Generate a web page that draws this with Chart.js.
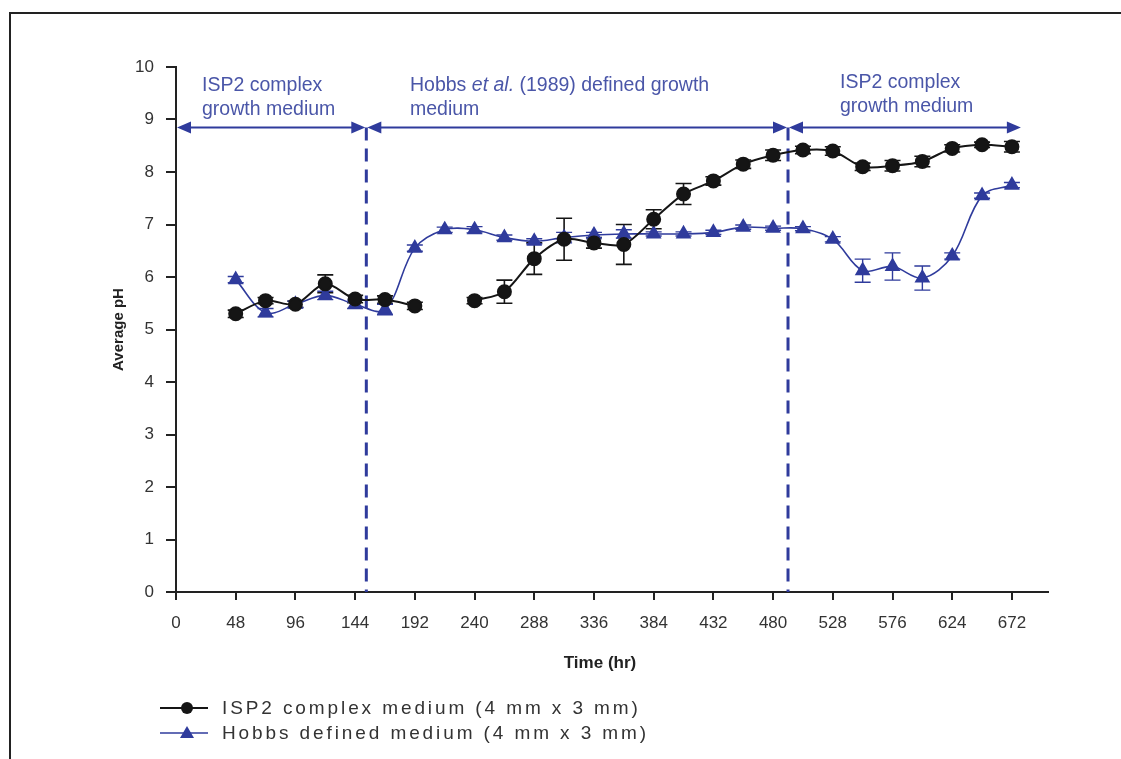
<!DOCTYPE html>
<html>
<head>
<meta charset="utf-8">
<script src="https://cdn.jsdelivr.net/npm/chart.js@4.4.1/dist/chart.umd.min.js"></script>
<style>
  html, body { margin: 0; padding: 0; background: #ffffff; }
  #wrap { width: 1121px; height: 759px; position: relative; }
</style>
</head>
<body>
<div id="wrap"><canvas id="c" width="1121" height="759"></canvas></div>
<script>
// ---- data ----
const times = [48,72,96,120,144,168,192,216,240,264,288,312,336,360,384,408,432,456,480,504,528,552,576,600,624,648,672];
const isp2pH = [5.30,5.55,5.48,5.87,5.58,5.57,5.45,null,5.55,5.72,6.35,6.72,6.65,6.62,7.10,7.58,7.83,8.15,8.32,8.42,8.40,8.10,8.12,8.20,8.45,8.52,8.48];
const isp2Err = [0.07,0.06,0.06,0.17,0.07,0.07,0.07,null,0.06,0.22,0.30,0.40,0.10,0.38,0.18,0.20,0.08,0.08,0.10,0.07,0.08,0.07,0.10,0.10,0.07,0.05,0.10];
const hobbsPH = [5.95,5.32,5.48,5.65,5.48,5.38,6.55,6.90,6.90,6.75,6.68,6.75,6.80,6.82,6.82,6.82,6.85,6.95,6.93,6.92,6.72,6.12,6.20,5.98,6.40,7.55,7.75];
const hobbsErr = [0.06,0.08,0.06,0.08,0.08,0.10,0.06,0.05,0.06,0.05,0.05,0.10,0.05,0.08,0.04,0.04,0.04,0.04,0.04,0.04,0.05,0.22,0.26,0.23,0.06,0.05,0.05];
const xTicks = [0,48,96,144,192,240,288,336,384,432,480,528,576,624,672];
const yTicks = [0,1,2,3,4,5,6,7,8,9,10];
const mediumChanges = [153, 492];   // hr, dashed lines
const phaseStart = 0, phaseEnd = 680, phaseArrowPH = 8.85;
const seriesNames = ['ISP2 complex medium (4 mm x 3 mm)', 'Hobbs defined medium (4 mm x 3 mm)'];

const BLACK = '#151515';
const BLUE = '#2f3b9c';
const TEXTBLUE = '#4a56a8';
const FONT = "'Liberation Sans', Arial, sans-serif";

const errorBarPlugin = {
  id: 'errorBars',
  beforeDatasetsDraw(chart) {
    const ctx = chart.ctx, xs = chart.scales.x, ys = chart.scales.y;
    const sets = [[isp2pH, isp2Err, BLACK, 1.6], [hobbsPH, hobbsErr, BLUE, 1.4]];
    ctx.save();
    sets.forEach(([vals, errs, col, lw]) => {
      ctx.strokeStyle = col; ctx.lineWidth = lw;
      times.forEach((t, i) => {
        if (vals[i] == null || errs[i] == null) return;
        const px = xs.getPixelForValue(t);
        const y1 = ys.getPixelForValue(vals[i] + errs[i]);
        const y2 = ys.getPixelForValue(vals[i] - errs[i]);
        ctx.beginPath();
        ctx.moveTo(px, y1); ctx.lineTo(px, y2);
        ctx.moveTo(px - 8, y1); ctx.lineTo(px + 8, y1);
        ctx.moveTo(px - 8, y2); ctx.lineTo(px + 8, y2);
        ctx.stroke();
      });
    });
    ctx.restore();
  }
};

function arrowHead(ctx, x, y, dir) {
  ctx.beginPath();
  ctx.moveTo(x, y);
  ctx.lineTo(x - dir * 14, y - 6);
  ctx.lineTo(x - dir * 14, y + 6);
  ctx.closePath();
  ctx.fill();
}

const annotationPlugin = {
  id: 'annot',
  beforeDatasetsDraw(chart) {
    const ctx = chart.ctx, xs = chart.scales.x, ys = chart.scales.y;
    const ay = ys.getPixelForValue(phaseArrowPH);
    const bounds = [phaseStart, ...mediumChanges, phaseEnd];
    ctx.save();
    ctx.strokeStyle = BLUE; ctx.lineWidth = 3; ctx.setLineDash([13, 8]);
    mediumChanges.forEach(t => {
      const px = xs.getPixelForValue(t);
      ctx.beginPath(); ctx.moveTo(px, ay); ctx.lineTo(px, ys.getPixelForValue(0)); ctx.stroke();
    });
    ctx.setLineDash([]);
    ctx.strokeStyle = BLUE; ctx.fillStyle = BLUE; ctx.lineWidth = 2;
    for (let i = 0; i < bounds.length - 1; i++) {
      const a = xs.getPixelForValue(bounds[i]) + 1, b = xs.getPixelForValue(bounds[i + 1]) - 1;
      ctx.beginPath(); ctx.moveTo(a + 4, ay); ctx.lineTo(b - 4, ay); ctx.stroke();
      arrowHead(ctx, a, ay, -1);
      arrowHead(ctx, b, ay, 1);
    }
    ctx.restore();
  },
  afterDraw(chart) {
    const ctx = chart.ctx;
    ctx.save();
    // frame
    ctx.strokeStyle = '#222'; ctx.lineWidth = 2;
    ctx.beginPath(); ctx.moveTo(10, 759); ctx.lineTo(10, 13); ctx.lineTo(1121, 13); ctx.stroke();
    // x-axis title
    ctx.fillStyle = '#222'; ctx.textBaseline = 'middle'; ctx.textAlign = 'center';
    ctx.font = 'bold 17px ' + FONT;
    ctx.fillText('Time (hr)', 600, 663);
    // phase labels
    ctx.fillStyle = TEXTBLUE; ctx.textAlign = 'left';
    const F = '19.5px ' + FONT;
    ctx.font = F;
    ctx.fillText('ISP2 complex', 202, 86);
    ctx.fillText('growth medium', 202, 110);
    let x = 410;
    ctx.fillText('Hobbs ', x, 86); x += ctx.measureText('Hobbs ').width;
    ctx.font = 'italic ' + F;
    ctx.fillText('et al.', x, 86); x += ctx.measureText('et al.').width;
    ctx.font = F;
    ctx.fillText(' (1989) defined growth', x, 86);
    ctx.fillText('medium', 410, 110);
    ctx.fillText('ISP2 complex', 840, 83);
    ctx.fillText('growth medium', 840, 107);
    // legend
    const rows = [[708, BLACK, 2, 'circle'], [733, BLUE, 1.5, 'triangle']];
    rows.forEach(([ly, col, lw, shape], i) => {
      ctx.strokeStyle = col; ctx.fillStyle = col; ctx.lineWidth = lw;
      ctx.beginPath(); ctx.moveTo(160, ly); ctx.lineTo(208, ly); ctx.stroke();
      if (shape === 'circle') {
        ctx.beginPath(); ctx.arc(187, ly, 6, 0, Math.PI * 2); ctx.fill();
      } else {
        ctx.beginPath(); ctx.moveTo(187, ly - 7); ctx.lineTo(194, ly + 5); ctx.lineTo(180, ly + 5); ctx.closePath(); ctx.fill();
      }
      ctx.fillStyle = '#333';
      ctx.font = '19px ' + FONT;
      ctx.letterSpacing = '2.9px';
      ctx.fillText(seriesNames[i], 222, ly + 1);
      ctx.letterSpacing = '0px';
    });
    ctx.restore();
  }
};

new Chart(document.getElementById('c'), {
  type: 'line',
  data: {
    datasets: [
      {
        label: seriesNames[0],
        data: times.map((t, i) => ({ x: t, y: isp2pH[i] })),
        borderColor: BLACK, backgroundColor: BLACK, borderWidth: 2,
        pointStyle: 'circle', pointRadius: 6.5, pointBackgroundColor: BLACK, pointBorderColor: BLACK,
        tension: 0.3, spanGaps: false
      },
      {
        label: seriesNames[1],
        data: times.map((t, i) => ({ x: t, y: hobbsPH[i] })),
        borderColor: BLUE, backgroundColor: BLUE, borderWidth: 1.6,
        pointStyle: 'triangle', pointRadius: 7.5, pointBackgroundColor: BLUE, pointBorderColor: BLUE,
        tension: 0.35, spanGaps: false
      }
    ]
  },
  options: {
    responsive: false,
    animation: false,
    devicePixelRatio: 1,
    layout: { padding: { left: 0, right: 73, top: 67, bottom: 77 } },
    plugins: { legend: { display: false }, tooltip: { enabled: false } },
    scales: {
      x: {
        type: 'linear', min: 0, max: 701,
        afterBuildTicks: s => { s.ticks = xTicks.map(v => ({ value: v })); },
        afterFit: s => { s.height = 90; },
        grid: { drawOnChartArea: false, drawTicks: true, tickLength: 8, color: '#222', lineWidth: 2 },
        border: { display: true, color: '#222', width: 2 },
        ticks: { font: { size: 17, family: FONT }, color: '#333', padding: 13, maxRotation: 0, autoSkip: false },
        title: { display: false }
      },
      y: {
        type: 'linear', min: 0, max: 10,
        afterBuildTicks: s => { s.ticks = yTicks.map(v => ({ value: v })); },
        afterFit: s => { s.width = 176; },
        grid: { drawOnChartArea: false, drawTicks: true, tickLength: 10, color: '#222', lineWidth: 2 },
        border: { display: true, color: '#222', width: 2 },
        ticks: { font: { size: 17, family: FONT }, color: '#333', padding: 12 },
        title: { display: true, text: 'Average pH', font: { size: 15, weight: 'bold', family: FONT }, color: '#222', padding: { top: 110, bottom: 0 } }
      }
    }
  },
  plugins: [errorBarPlugin, annotationPlugin]
});
</script>
</body>
</html>
